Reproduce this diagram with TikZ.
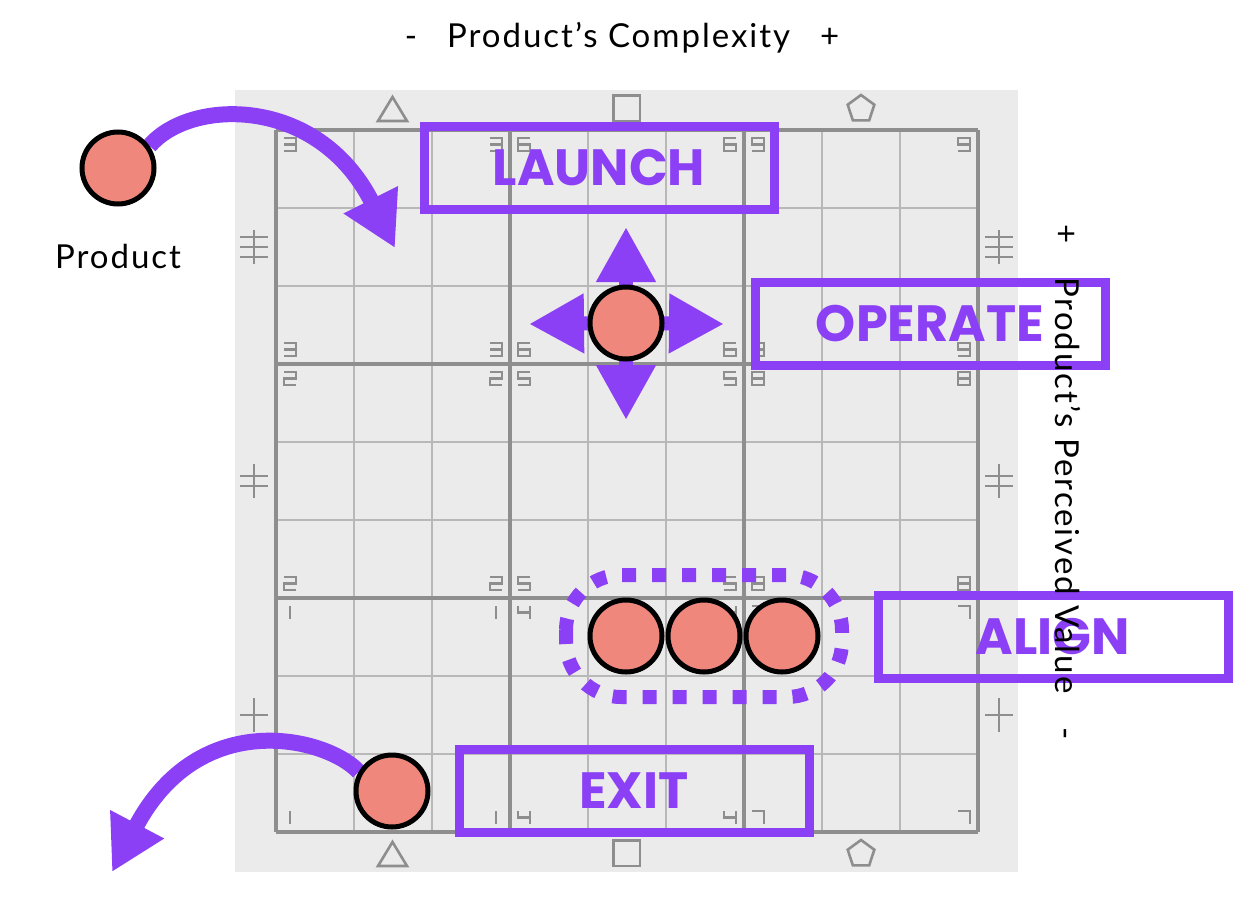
\documentclass[tikz,border=0pt]{standalone}
\usepackage{fontspec}
\setmainfont{Lato}
\newfontfamily\lblfont{Poppins}
\usetikzlibrary{arrows.meta}
\pgfdeclarelayer{back}
\pgfdeclarelayer{mid}
\pgfsetlayers{back,mid,main}
\definecolor{purp}{HTML}{8B40F5}
\definecolor{salmon}{HTML}{F0877D}
\definecolor{bggrey}{HTML}{EBEBEB}
\definecolor{gridthin}{HTML}{B8B8B8}
\definecolor{gridthick}{HTML}{8E8E8E}
\newcommand{\segd}[3]{%
  \begin{scope}[shift={(#1,#2)}]
  \ifcase#3\relax
  \or \draw[dig] (0,-6.5)--(0,6.5);
  \or \draw[dig] (-6,-6.5)--(6,-6.5)--(6,0)--(-6,0)--(-6,6.5)--(6,6.5);
  \or \draw[dig] (-6,-6.5)--(6,-6.5)--(6,6.5)--(-6,6.5) (-6,0)--(6,0);
  \or \draw[dig] (-6,-6.5)--(-6,0)--(6,0) (6,-6.5)--(6,6.5);
  \or \draw[dig] (6,-6.5)--(-6,-6.5)--(-6,0)--(6,0)--(6,6.5)--(-6,6.5);
  \or \draw[dig] (6,-6.5)--(-6,-6.5)--(-6,6.5)--(6,6.5)--(6,0)--(-6,0);
  \or \draw[dig] (-6,-6.5)--(6,-6.5)--(6,6.5);
  \or \draw[dig] (-6,-6.5) rectangle (6,6.5) (-6,0)--(6,0);
  \or \draw[dig] (6,0)--(-6,0)--(-6,-6.5)--(6,-6.5)--(6,6.5)--(-6,6.5);
  \fi
  \end{scope}}
\begin{document}
\begin{tikzpicture}[x=1pt,y=-1pt,
  dig/.style={draw=gridthick, line width=2.4pt},
  thinln/.style={draw=gridthin, line width=2pt},
  thickln/.style={draw=gridthick, line width=4pt},
  sym/.style={draw=gridthick, line width=2.6pt},
  ball/.style={circle, draw=black, line width=5pt, fill=salmon, minimum size=72pt, inner sep=0pt},
  stagebox/.style={draw=purp, line width=9pt, minimum width=350pt, minimum height=83pt, inner sep=0pt,
    text=purp, font=\lblfont\bfseries\fontsize{51}{51}\selectfont},
  axislbl/.style={font=\addfontfeatures{LetterSpace=6}\fontsize{33}{36}\selectfont, text=black, inner sep=0pt},
  bigarrow/.style={draw=purp, line width=16pt, -{Triangle[length=54pt, width=57pt]}},
  movearrow/.style={draw=purp, line width=14pt, -{Triangle[length=55pt, width=56pt]}}
  ]
\useasboundingbox (0,0) rectangle (1252,902);

\begin{pgfonlayer}{back}
  \fill[bggrey] (235,90) rectangle (1018,872);
  \foreach \k in {1,2,4,5,7,8} {
    \draw[thinln] ({276+78*\k},130) -- ({276+78*\k},832);
    \draw[thinln] (276,{130+78*\k}) -- (978,{130+78*\k});
  }
  \foreach \k in {0,3,6,9} {
    \draw[thickln] ({276+78*\k},130) -- ({276+78*\k},832);
    \draw[thickln] (276,{130+78*\k}) -- (978,{130+78*\k});
  }
  \foreach \i in {0,1,2} {
    \foreach \j in {0,1,2} {
      \pgfmathtruncatemacro\d{3*\i+3-\j}
      \pgfmathsetmacro\xl{276+234*\i+14}
      \pgfmathsetmacro\xr{276+234*(\i+1)-14}
      \pgfmathsetmacro\yt{130+234*\j+14.5}
      \pgfmathsetmacro\yb{130+234*(\j+1)-14.5}
      \segd{\xl}{\yt}{\d}
      \segd{\xr}{\yt}{\d}
      \segd{\xl}{\yb}{\d}
      \segd{\xr}{\yb}{\d}
    }
  }
  % side marks
  \foreach \sx in {0,745} {
    \begin{scope}[shift={(\sx,0)}]
      \draw[sym] (240,237)--(268,237) (240,247)--(268,247) (240,257)--(268,257) (254,230)--(254,264);
      \draw[sym] (240,476)--(268,476) (240,486)--(268,486) (254,464)--(254,498);
      \draw[sym] (240,715)--(268,715) (254,698)--(254,732);
    \end{scope}
  }
  \foreach \sy in {0,745} {
    \begin{scope}[shift={(0,\sy)}]
      \draw[sym, line join=miter] (378,121)--(407,121)--(392.5,97)--cycle;
      \draw[sym] (613.5,95.5) rectangle (640,121);
      \draw[sym] (861,95)--(847.7,104.7)--(852.8,120.3)--(869.2,120.3)--(874.3,104.7)--cycle;
    \end{scope}
  }
\end{pgfonlayer}

% stage boxes
\node[stagebox] (launch) at (599,168) {LAUNCH};
\node[stagebox] (operate) at (930,324) {OPERATE};
\node[stagebox] (align) at (1053,637) {ALIGN};
\node[stagebox] (exit) at (634,791) {EXIT};

% product circles
\node[ball] (prod) at (118,168) {};
\node[ball] (op) at (626,323) {};
\node[ball] (al1) at (626,636) {};
\node[ball] (al2) at (704,636) {};
\node[ball] (al3) at (782,636) {};
\node[ball] (ex) at (392,791) {};

% group outline
\draw[purp, line width=14pt, dash pattern=on 14pt off 16pt, rounded corners=55pt]
  (566,575) rectangle (842,697);

% arrow end points
\coordinate (launchtip) at (395,248);
\coordinate (exittip) at (112,872);
\coordinate (uptip) at (626,227);
\coordinate (downtip) at (626,420);
\coordinate (lefttip) at (529,324);
\coordinate (righttip) at (724,324);

\begin{pgfonlayer}{mid}
  \draw[bigarrow] (prod.35) .. controls (190,98) and (318,95) .. (launchtip);
  \draw[bigarrow] (ex.150) .. controls (328,738) and (200,705) .. (exittip);
  \draw[movearrow] (op.center) -- (uptip);
  \draw[movearrow] (op.center) -- (downtip);
  \draw[movearrow] (op.center) -- (lefttip);
  \draw[movearrow] (op.center) -- (righttip);
\end{pgfonlayer}

% labels
\node[axislbl] (prodlbl) at (118,256) {Product};
\node[axislbl] (xaxis) at (622,38) {-\hspace{30pt}Product’s Complexity\hspace{30pt}+};
\node[axislbl, rotate=-90] (yaxis) at (1068,482) {+\hspace{34pt}Product’s Perceived Value\hspace{34pt}-};
\end{tikzpicture}
\end{document}
